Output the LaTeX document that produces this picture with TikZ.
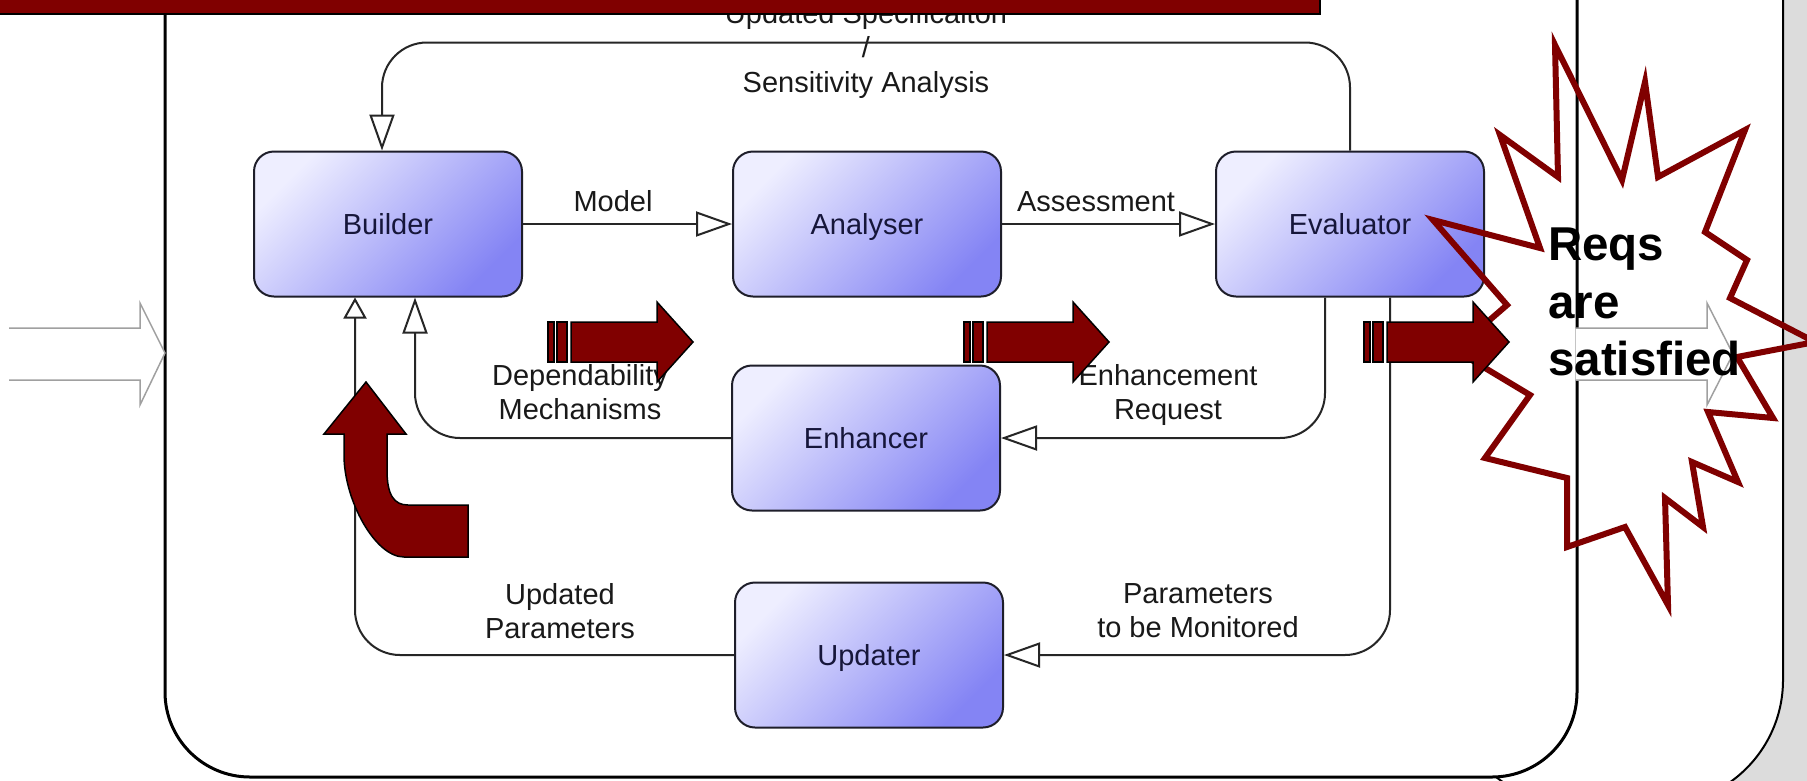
\documentclass[tikz,border=0pt]{standalone}
\usepackage{fontspec}
\setmainfont{Liberation Sans}
\usetikzlibrary{arrows.meta}
\definecolor{reqred}{HTML}{800000}
\definecolor{boxlight}{HTML}{EEEEFF}
\definecolor{boxdark}{HTML}{8484F4}
\definecolor{boxline}{HTML}{1E1E2A}
\definecolor{boxtext}{HTML}{16163A}
\definecolor{panelgrey}{HTML}{DCDCDC}
\definecolor{arrowgrey}{HTML}{A0A0A0}

\begin{document}
\begin{tikzpicture}[x=1pt, y=-1pt,
        every node/.style={font=\fontsize{29}{34.5}\selectfont, text=black!90, inner sep=0pt},
        box/.style={draw=boxline, line width=2pt, rounded corners=20pt, minimum width=268pt, minimum height=145pt,
                    text height=20pt, text depth=0pt,
                    top color=boxlight, bottom color=boxdark, shading angle=45, text=boxtext},
        lbl/.style={align=center, anchor=north},
        flow/.style={draw=black!85, line width=2pt, rounded corners=45pt, -{Triangle[open, length=36pt, width=25pt]}},
        redfill/.style={fill=reqred, draw=black, line width=1.5pt},
        greyarrow/.style={draw=arrowgrey, line width=1.5pt, fill=white}]
\useasboundingbox (0,0) rectangle (1807,780);

% panels behind
\fill[panelgrey] (1700,-10) rectangle (1820,790);
\draw[line width=2pt, fill=white, rounded corners=125pt] (1450,-300) rectangle (1783,805);
\draw[line width=3pt, fill=white, rounded corners=85pt] (165,-150) rectangle (1577,777);
\draw[greyarrow] (9,328) -- (140,328) -- (140,303) -- (165,353) -- (140,405) -- (140,380) -- (9,380);
\draw[greyarrow] (1575.5,328) -- (1707,328) -- (1707,303) -- (1733,354) -- (1707,405) -- (1707,380) -- (1575.5,380);

% title bar over the top label
\node[lbl] (ts) at (866,2) {Updated Specificaiton\\/\\Sensitivity Analysis};
\filldraw[redfill] (-5,-10) rectangle (1320,14);

\node[box] (B) at (388,224) {Builder};
\node[box] (A) at (867,224) {Analyser};
\node[box] (V) at (1350,224) {Evaluator};
\node[box] (E) at (866,438) {Enhancer};
\node[box] (U) at (869,655) {Updater};

\draw[flow] (V.north) -- ++(0,-108) -| ([xshift=-6pt]B.north);
\draw[flow] (B) -- (A);
\draw[flow] (A) -- (V);
\draw[flow] ([xshift=-25pt]V.south) |- (E);
\draw[flow] ([xshift=40pt]V.south) |- (U);
\draw[flow] (E) -| ([xshift=27pt]B.south);
\draw[flow, -{Triangle[open, length=21pt, width=23pt]}] (U) -| ([xshift=-33pt]B.south);

\node[anchor=base] (lm) at (613,211) {Model};
\node[anchor=base] (la) at (1096,211) {Assessment};
\node[lbl] (ld) at (580,364) {Dependability\\Mechanisms};
\node[lbl] (lr) at (1168,364) {Enhancement\\Request};
\node[lbl] (lu) at (560,583) {Updated\\Parameters};
\node[lbl] (lp) at (1198,583) {Parameters\\to be Monitored};

% burst
\draw[reqred, line width=6pt] (1433,220) -- (1540,248) -- (1500,135) -- (1558,177) -- (1555,45)
    -- (1622,180) -- (1645,82) -- (1658,177) -- (1745,130) -- (1705,232) -- (1747,260) -- (1730,298)
    -- (1815,342) -- (1737,357) -- (1773,418) -- (1708,412) -- (1738,482) -- (1692,462) -- (1703,527)
    -- (1665,498) -- (1668,605) -- (1625,527) -- (1567,547) -- (1567,478) -- (1485,458) -- (1530,395)
    -- (1455,350) -- (1507,305) -- cycle;

% red arrows
\foreach \x in {548,964,1364} {
    \filldraw[redfill] (\x,322) rectangle ++(6,40);
    \filldraw[redfill] (\x+9,322) rectangle ++(10,40);
    \filldraw[redfill] (\x+23,322) -- (\x+109,322) -- (\x+109,302) -- (\x+145,342)
        -- (\x+109,382) -- (\x+109,362) -- (\x+23,362) -- cycle;
}
\filldraw[redfill] (366,382) -- (406,434) -- (387,434) -- (387,470) .. controls (387,495) and (394,505) .. (408,505)
    -- (468,505) -- (468,557) -- (404,557) .. controls (375,557) and (344,500) .. (344,455) -- (344,434) -- (324,434) -- cycle;

\node[anchor=north west, align=left, font=\bfseries\fontsize{47.5}{57.5}\selectfont, text=black] (R) at (1548,228) {Reqs\\are\\satisfied};
\end{tikzpicture}
\end{document}
